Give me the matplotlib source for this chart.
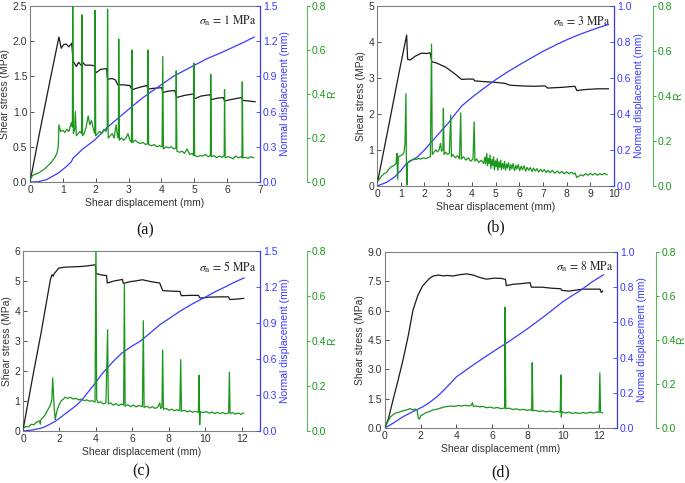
import numpy as np
import matplotlib
matplotlib.use('Agg')
import matplotlib.pyplot as plt
from matplotlib.ticker import FormatStrFormatter

plt.rcParams['font.family'] = ['Liberation Sans', 'DejaVu Sans']
plt.rcParams['mathtext.fontset'] = 'stix'

# ---- (a) sigma_n = 1 MPa : (shear displacement mm, value) ----
a_tau = [(0, 0), (0.05, 0.12), (0.3, 0.72), (0.6, 1.42), (0.88, 2.06), (0.95, 1.9), (1.02, 1.95),
         (1.1, 1.96), (1.18, 1.92), (1.27, 1.97), (1.31, 1.72), (1.41, 1.64), (1.48, 1.7), (1.55, 1.66),
         (1.6, 1.7), (1.68, 1.66), (1.85, 1.66), (1.97, 1.65), (2.0, 1.55), (2.15, 1.6), (2.33, 1.61),
         (2.36, 1.46), (2.5, 1.47), (2.6, 1.45), (2.67, 1.38), (2.85, 1.38), (3.04, 1.37), (3.1, 1.31),
         (3.3, 1.34), (3.55, 1.37), (3.6, 1.32), (3.75, 1.33), (4.01, 1.34), (4.04, 1.27), (4.2, 1.29),
         (4.41, 1.3), (4.46, 1.2), (4.7, 1.23), (4.97, 1.25), (5.0, 1.18), (5.2, 1.22), (5.48, 1.24),
         (5.51, 1.17), (5.7, 1.19), (5.88, 1.2), (5.92, 1.15), (6.1, 1.17), (6.44, 1.2), (6.47, 1.16),
         (6.65, 1.15), (6.85, 1.14)]
a_dn = [(0, 0), (0.24, 0.002), (0.5, 0.02), (0.85, 0.074), (1.1, 0.13), (1.26, 0.173), (1.3, 0.2),
        (1.36, 0.216), (1.6, 0.28), (1.97, 0.358), (2.37, 0.47), (2.98, 0.614), (3.35, 0.7), (3.59, 0.75),
        (4.0, 0.83), (4.36, 0.9), (4.9, 0.98), (5.38, 1.05), (5.8, 1.1), (6.19, 1.15), (6.5, 1.19),
        (6.82, 1.235)]
a_ratio = [(0, 0.01), (0.08, 0.03), (0.15, 0.035), (0.25, 0.04), (0.35, 0.05), (0.45, 0.06), (0.55, 0.075),
           (0.65, 0.09), (0.75, 0.11), (0.82, 0.13), (0.86, 0.16), (0.88, 0.26), (0.93, 0.23), (1.0, 0.235),
           (1.06, 0.225), (1.12, 0.24), (1.18, 0.23), (1.22, 0.25), (1.26, 0.27), (1.29, 0.25), (1.3, 0.85),
           (1.32, 0.22), (1.36, 0.24), (1.38, 0.32), (1.41, 0.21), (1.46, 0.22), (1.52, 0.23), (1.57, 0.22),
           (1.58, 0.76), (1.6, 0.21), (1.65, 0.22), (1.71, 0.25), (1.77, 0.3), (1.82, 0.26), (1.87, 0.28),
           (1.93, 0.24), (1.97, 0.22), (1.98, 0.78), (2.0, 0.21), (2.06, 0.22), (2.12, 0.23), (2.18, 0.22),
           (2.25, 0.24), (2.31, 0.23), (2.35, 0.25), (2.36, 0.785), (2.38, 0.2), (2.44, 0.21), (2.5, 0.22),
           (2.56, 0.2), (2.62, 0.26), (2.66, 0.21), (2.69, 0.2), (2.7, 0.65), (2.72, 0.19), (2.78, 0.2),
           (2.85, 0.19), (2.92, 0.2), (2.98, 0.22), (3.04, 0.19), (3.09, 0.18), (3.1, 0.6), (3.12, 0.18),
           (3.2, 0.19), (3.28, 0.18), (3.36, 0.175), (3.44, 0.18), (3.52, 0.17), (3.58, 0.175), (3.59, 0.6),
           (3.61, 0.17), (3.7, 0.165), (3.78, 0.17), (3.86, 0.16), (3.94, 0.165), (4.02, 0.16), (4.04, 0.57),
           (4.06, 0.15), (4.14, 0.16), (4.22, 0.155), (4.3, 0.16), (4.38, 0.15), (4.44, 0.155), (4.45, 0.505),
           (4.47, 0.14), (4.55, 0.135), (4.63, 0.14), (4.7, 0.13), (4.78, 0.15), (4.86, 0.125), (4.94, 0.13),
           (4.98, 0.12), (4.99, 0.54), (5.01, 0.12), (5.1, 0.115), (5.18, 0.12), (5.26, 0.118), (5.34, 0.125),
           (5.42, 0.115), (5.49, 0.12), (5.5, 0.49), (5.52, 0.115), (5.6, 0.12), (5.68, 0.11), (5.76, 0.118),
           (5.84, 0.112), (5.91, 0.12), (5.92, 0.42), (5.94, 0.11), (6.02, 0.115), (6.1, 0.112), (6.18, 0.105),
           (6.26, 0.118), (6.34, 0.11), (6.42, 0.115), (6.45, 0.11), (6.46, 0.455), (6.48, 0.11), (6.56, 0.112),
           (6.64, 0.108), (6.72, 0.115), (6.8, 0.11)]

# ---- (b) sigma_n = 3 MPa ----
b_tau = [(0, 0.1), (0.05, 0.2), (0.5, 1.7), (0.9, 3.05), (1.25, 4.19), (1.29, 3.52), (1.4, 3.5),
         (1.6, 3.6), (1.87, 3.69), (2.1, 3.68), (2.24, 3.7), (2.31, 3.45), (2.5, 3.42), (2.7, 3.36),
         (2.9, 3.3), (3.15, 3.18), (3.35, 3.08), (3.57, 2.96), (3.8, 2.97), (4.07, 2.97), (4.12, 2.92),
         (4.5, 2.9), (4.98, 2.88), (5.4, 2.85), (5.61, 2.8), (6.1, 2.78), (6.6, 2.77), (7.09, 2.78),
         (7.2, 2.72), (7.8, 2.74), (8.35, 2.77), (8.43, 2.65), (8.8, 2.68), (9.3, 2.7), (9.76, 2.7)]
b_dn = [(0, 0), (0.4, 0.02), (0.76, 0.052), (1.0, 0.085), (1.25, 0.126), (1.5, 0.145), (1.72, 0.163),
        (2.0, 0.2), (2.31, 0.246), (2.6, 0.29), (3.01, 0.35), (3.3, 0.4), (3.57, 0.444), (4.0, 0.492),
        (4.5, 0.542), (5.0, 0.59), (5.5, 0.633), (6.0, 0.673), (6.6, 0.718), (7.0, 0.748), (7.58, 0.786),
        (8.0, 0.812), (8.43, 0.836), (9.0, 0.864), (9.4, 0.882), (9.76, 0.897)]
b_ratio = [(0, 0.02), (0.1, 0.03), (0.2, 0.045), (0.3, 0.055), (0.4, 0.06), (0.5, 0.075), (0.6, 0.085),
           (0.7, 0.09), (0.8, 0.1), (0.84, 0.145), (0.86, 0.07), (0.87, 0.03), (0.9, 0.13), (1.0, 0.135),
           (1.08, 0.14), (1.14, 0.15), (1.18, 0.19), (1.22, 0.41), (1.24, 0.1), (1.26, 0.004), (1.29, 0.1),
           (1.35, 0.11), (1.45, 0.115), (1.55, 0.12), (1.65, 0.118), (1.75, 0.122), (1.85, 0.12), (1.95, 0.125),
           (2.05, 0.122), (2.15, 0.126), (2.25, 0.13), (2.3, 0.63), (2.33, 0.14), (2.4, 0.15), (2.48, 0.16),
           (2.55, 0.152), (2.62, 0.16), (2.68, 0.19), (2.72, 0.155), (2.78, 0.16), (2.8, 0.345), (2.83, 0.14),
           (2.9, 0.15), (2.98, 0.14), (3.05, 0.145), (3.11, 0.315), (3.14, 0.13), (3.2, 0.14), (3.3, 0.125),
           (3.4, 0.135), (3.48, 0.12), (3.53, 0.325), (3.56, 0.12), (3.65, 0.13), (3.75, 0.115), (3.85, 0.125),
           (3.95, 0.11), (4.05, 0.12), (4.1, 0.285), (4.13, 0.11), (4.2, 0.12), (4.3, 0.105), (4.4, 0.115),
           (4.5, 0.1), (4.55, 0.128), (4.58, 0.098), (4.63, 0.145), (4.66, 0.09), (4.7, 0.122), (4.73, 0.1),
           (4.77, 0.138), (4.8, 0.078), (4.85, 0.118), (4.88, 0.09), (4.92, 0.13), (4.95, 0.072), (5.0, 0.112),
           (5.03, 0.085), (5.07, 0.122), (5.1, 0.07), (5.14, 0.108), (5.18, 0.082), (5.22, 0.115), (5.25, 0.072),
           (5.3, 0.1), (5.34, 0.078), (5.38, 0.11), (5.42, 0.07), (5.47, 0.098), (5.5, 0.08), (5.55, 0.104),
           (5.6, 0.07), (5.65, 0.095), (5.69, 0.076), (5.74, 0.1), (5.8, 0.068), (5.86, 0.092), (5.9, 0.075),
           (5.96, 0.095), (6.02, 0.068), (6.08, 0.088), (6.14, 0.072), (6.2, 0.09), (6.27, 0.066),
           (6.33, 0.083), (6.4, 0.07), (6.47, 0.082), (6.54, 0.064), (6.6, 0.079), (6.68, 0.066),
           (6.75, 0.077), (6.82, 0.062), (6.9, 0.074), (6.98, 0.063), (7.06, 0.073), (7.14, 0.06),
           (7.22, 0.07), (7.3, 0.059), (7.4, 0.069), (7.5, 0.057), (7.6, 0.066), (7.7, 0.057), (7.8, 0.065),
           (7.9, 0.055), (8.0, 0.063), (8.1, 0.055), (8.2, 0.061), (8.3, 0.053), (8.36, 0.058), (8.42, 0.038),
           (8.5, 0.042), (8.6, 0.05), (8.7, 0.045), (8.8, 0.055), (8.9, 0.048), (9.0, 0.056), (9.1, 0.049),
           (9.2, 0.056), (9.3, 0.048), (9.4, 0.055), (9.5, 0.05), (9.6, 0.056), (9.7, 0.05)]

# ---- (c) sigma_n = 5 MPa ----
c_tau = [(0, 0.05), (0.05, 0.2), (0.5, 1.7), (1.0, 3.3), (1.5, 5.04), (1.59, 5.21), (1.66, 5.16),
         (1.72, 5.25), (1.96, 5.43), (2.3, 5.46), (2.69, 5.47), (3.1, 5.48), (3.5, 5.5), (3.97, 5.54),
         (4.0, 5.25), (4.3, 5.2), (4.58, 5.18), (4.62, 4.93), (5.0, 5.0), (5.45, 5.05), (5.5, 4.92),
         (5.9, 4.98), (6.16, 5.0), (6.55, 5.04), (7.0, 4.98), (7.5, 4.93), (7.66, 4.68), (8.2, 4.66),
         (8.61, 4.65), (8.68, 4.51), (9.2, 4.52), (9.62, 4.52), (9.71, 4.43), (10.2, 4.46), (10.8, 4.47),
         (11.26, 4.47), (11.35, 4.38), (11.8, 4.4), (12.1, 4.42)]
c_dn = [(0, 0), (0.5, 0.008), (1.04, 0.025), (1.4, 0.05), (1.77, 0.081), (2.1, 0.118), (2.5, 0.164),
        (2.9, 0.21), (3.24, 0.26), (3.6, 0.33), (3.97, 0.4), (4.3, 0.47), (4.7, 0.539), (5.05, 0.595),
        (5.43, 0.65), (6.0, 0.71), (6.42, 0.747), (7.0, 0.82), (7.51, 0.886), (8.05, 0.94), (8.61, 0.998),
        (9.3, 1.06), (10.08, 1.122), (10.6, 1.165), (11.17, 1.206), (11.6, 1.24), (12.12, 1.275)]
c_ratio = [(0, 0.01), (0.15, 0.02), (0.3, 0.018), (0.45, 0.03), (0.6, 0.028), (0.75, 0.04), (0.9, 0.045),
           (0.95, 0.03), (0.98, 0.05), (1.1, 0.06), (1.2, 0.07), (1.3, 0.085), (1.4, 0.1), (1.5, 0.115),
           (1.58, 0.14), (1.63, 0.236), (1.68, 0.15), (1.72, 0.09), (1.77, 0.05), (1.82, 0.075), (1.9, 0.1),
           (2.0, 0.12), (2.1, 0.135), (2.2, 0.14), (2.3, 0.15), (2.45, 0.145), (2.6, 0.15), (2.75, 0.142),
           (2.9, 0.145), (3.05, 0.138), (3.2, 0.142), (3.35, 0.135), (3.5, 0.138), (3.65, 0.132), (3.8, 0.135),
           (3.95, 0.128), (4.0, 0.85), (4.04, 0.14), (4.12, 0.125), (4.25, 0.13), (4.4, 0.12), (4.55, 0.125),
           (4.64, 0.45), (4.68, 0.12), (4.8, 0.125), (4.95, 0.115), (5.1, 0.122), (5.25, 0.113), (5.4, 0.12),
           (5.52, 0.115), (5.56, 0.655), (5.6, 0.11), (5.75, 0.117), (5.9, 0.108), (6.05, 0.115), (6.2, 0.107),
           (6.35, 0.113), (6.55, 0.108), (6.6, 0.49), (6.64, 0.105), (6.8, 0.11), (6.95, 0.102), (7.1, 0.108),
           (7.25, 0.1), (7.4, 0.107), (7.5, 0.125), (7.55, 0.1), (7.62, 0.105), (7.66, 0.36), (7.7, 0.097),
           (7.85, 0.1), (8.0, 0.092), (8.15, 0.097), (8.3, 0.09), (8.45, 0.095), (8.6, 0.09), (8.65, 0.317),
           (8.69, 0.088), (8.85, 0.092), (9.0, 0.085), (9.15, 0.09), (9.3, 0.083), (9.45, 0.088), (9.62, 0.083),
           (9.66, 0.248), (9.69, 0.028), (9.72, 0.085), (9.9, 0.082), (10.05, 0.086), (10.2, 0.079),
           (10.35, 0.084), (10.5, 0.078), (10.65, 0.083), (10.8, 0.077), (10.95, 0.082), (11.1, 0.076),
           (11.28, 0.081), (11.32, 0.262), (11.36, 0.078), (11.5, 0.081), (11.65, 0.075), (11.8, 0.08),
           (11.95, 0.074), (12.1, 0.08)]

# ---- (d) sigma_n = 8 MPa ----
d_tau = [(0, 0), (0.2, 0.5), (0.45, 1.43), (0.75, 2.5), (1.01, 3.48), (1.3, 4.7), (1.57, 6.03),
         (1.85, 6.8), (2.1, 7.25), (2.32, 7.48), (2.5, 7.65), (2.7, 7.77), (3.0, 7.82), (3.26, 7.78),
         (3.5, 7.8), (3.8, 7.77), (4.2, 7.84), (4.57, 7.88), (4.95, 7.82), (5.3, 7.7), (5.69, 7.61),
         (6.1, 7.66), (6.5, 7.65), (6.75, 7.6), (6.8, 7.28), (7.2, 7.35), (7.6, 7.38), (8.13, 7.43),
         (8.2, 7.2), (8.8, 7.2), (9.3, 7.15), (9.85, 7.12), (9.9, 7.04), (10.3, 7.0), (10.7, 7.05),
         (11.1, 7.1), (11.6, 7.1), (12.05, 7.1), (12.12, 6.93), (12.2, 7.0)]
d_dn = [(0, 0), (0.5, 0.03), (1.01, 0.064), (1.6, 0.095), (2.13, 0.121), (2.5, 0.145), (2.88, 0.175),
        (3.25, 0.21), (3.63, 0.25), (4.0, 0.29), (5.0, 0.362), (6.0, 0.43), (7.0, 0.495), (8.0, 0.565),
        (9.0, 0.64), (10.0, 0.72), (11.0, 0.785), (11.6, 0.83), (12.24, 0.87)]
d_ratio = [(0, 0.005), (0.1, 0.02), (0.2, 0.035), (0.3, 0.05), (0.45, 0.06), (0.6, 0.068), (0.8, 0.072),
           (1.0, 0.078), (1.2, 0.082), (1.4, 0.088), (1.55, 0.083), (1.7, 0.086), (1.8, 0.08), (1.87, 0.045),
           (1.93, 0.04), (2.0, 0.055), (2.15, 0.062), (2.3, 0.07), (2.5, 0.075), (2.7, 0.082), (2.9, 0.085),
           (3.1, 0.09), (3.3, 0.095), (3.5, 0.098), (3.7, 0.1), (3.9, 0.098), (4.1, 0.102), (4.3, 0.1),
           (4.5, 0.103), (4.7, 0.1), (4.85, 0.104), (4.9, 0.115), (4.95, 0.098), (5.1, 0.1), (5.3, 0.096),
           (5.5, 0.098), (5.7, 0.092), (5.9, 0.095), (6.1, 0.09), (6.3, 0.093), (6.5, 0.088), (6.7, 0.09),
           (6.73, 0.549), (6.77, 0.088), (6.95, 0.09), (7.15, 0.084), (7.35, 0.087), (7.55, 0.082),
           (7.75, 0.085), (7.95, 0.08), (8.15, 0.083), (8.22, 0.08), (8.25, 0.297), (8.29, 0.078), (8.45, 0.08),
           (8.65, 0.075), (8.85, 0.078), (9.05, 0.073), (9.25, 0.077), (9.45, 0.072), (9.65, 0.075),
           (9.82, 0.072), (9.86, 0.241), (9.88, 0.05), (9.92, 0.074), (10.1, 0.068), (10.3, 0.072),
           (10.5, 0.066), (10.7, 0.07), (10.9, 0.066), (11.1, 0.07), (11.3, 0.067), (11.5, 0.072),
           (11.7, 0.068), (11.9, 0.073), (12.0, 0.07), (12.04, 0.251), (12.08, 0.072), (12.2, 0.068)]

sigma_labels = ['1', '3', '5', '8']
panel_tags = ['(a)', '(b)', '(c)', '(d)']

GRAY = '#808080'
BLUE = '#3a3aff'
GREEN = '#1a961a'
GREEN_AX = '#5cb85c'
TICK_FS = 7.5


def draw_panel(fig, rect, tau, dn, ratio, xlim, xticks, tau_lim, tau_step, tau_fmt,
               dn_lim, dn_step, green_pos, sigma, tag, tag_y):
    ax = fig.add_axes(rect)
    ax_dn = ax.twinx()
    ax_r = ax.twinx()

    tx, ty = np.array(tau).T
    dx, dy = np.array(dn).T
    rx, ry = np.array(ratio).T
    ax.plot(tx, ty, color='#1a1a1a', lw=0.9, zorder=3)
    ax_dn.plot(dx, dy, color=BLUE, lw=0.9)
    ax_r.plot(rx, ry, color=GREEN, lw=0.9)

    ax.set_xlim(*xlim)
    ax.set_xticks(xticks)
    ax.set_ylim(*tau_lim)
    ax.set_yticks(np.arange(tau_lim[0], tau_lim[1] + 1e-9, tau_step))
    ax.yaxis.set_major_formatter(FormatStrFormatter(tau_fmt))
    ax.set_xlabel('Shear displacement (mm)', fontsize=TICK_FS, color='#333333', labelpad=2)
    ax.set_ylabel('Shear stress (MPa)', fontsize=TICK_FS, color='#333333', labelpad=2)
    ax.tick_params(direction='in', length=3, width=0.6, labelsize=TICK_FS, colors='#333333', pad=2)
    for s in ['left', 'top', 'bottom']:
        ax.spines[s].set_color(GRAY)
        ax.spines[s].set_linewidth(0.8)

    ax_dn.set_ylim(*dn_lim)
    ax_dn.set_yticks(np.arange(dn_lim[0], dn_lim[1] + 1e-9, dn_step))
    ax_dn.yaxis.set_major_formatter(FormatStrFormatter('%.1f'))
    ax_dn.tick_params(direction='in', length=3, width=0.6, labelsize=TICK_FS, colors=BLUE, pad=2)
    ax_dn.spines['right'].set_color(BLUE)
    ax_dn.spines['right'].set_linewidth(0.8)
    ax_dn.set_ylabel('Normal displacement (mm)', fontsize=TICK_FS, color=BLUE, labelpad=2)
    for s in ['left', 'top', 'bottom']:
        ax_dn.spines[s].set_visible(False)

    ax_r.spines['right'].set_position(('axes', green_pos))
    ax_r.set_ylim(0, 0.8)
    ax_r.set_yticks(np.arange(0, 0.81, 0.2))
    ax_r.yaxis.set_major_formatter(FormatStrFormatter('%.1f'))
    ax_r.tick_params(direction='out', length=2.5, width=0.6, labelsize=TICK_FS, colors=GREEN, pad=1)
    ax_r.spines['right'].set_color(GREEN_AX)
    ax_r.spines['right'].set_linewidth(0.8)
    ax_r.set_ylabel('R', fontsize=TICK_FS, color=GREEN, labelpad=0.5)
    for s in ['left', 'top', 'bottom']:
        ax_r.spines[s].set_visible(False)

    ax.text(0.985, 0.955, r'$\sigma_{\mathrm{n}}\,=\,%s\ \mathrm{MPa}$' % sigma, transform=ax.transAxes,
            ha='right', va='top', fontsize=8.5, color='#222222')
    fig.text(rect[0] + rect[2] * 0.5, tag_y, tag, ha='center', va='center', fontsize=11.5,
             family='Liberation Serif', color='#111111')


fig = plt.figure(figsize=(6.85, 4.83), dpi=100)

draw_panel(fig, [0.0438, 0.6232, 0.3358, 0.3644], a_tau, a_dn, a_ratio, (0, 7), range(0, 8),
           (0, 2.5), 0.5, '%.1f', (0, 1.5), 0.3, 1.204, sigma_labels[0], panel_tags[0], 0.524)
draw_panel(fig, [0.5504, 0.6149, 0.346, 0.3727], b_tau, b_dn, b_ratio, (0, 10), range(0, 11),
           (0, 5), 1, '%d', (0, 1.0), 0.2, 1.165, sigma_labels[1], panel_tags[1], 0.530)
draw_panel(fig, [0.0336, 0.1077, 0.346, 0.3727], c_tau, c_dn, c_ratio, (0, 13), range(0, 13, 2),
           (0, 6), 1, '%d', (0, 1.5), 0.3, 1.198, sigma_labels[2], panel_tags[2], 0.024)
draw_panel(fig, [0.562, 0.1139, 0.3387, 0.3644], d_tau, d_dn, d_ratio, (0, 13), range(0, 13, 2),
           (0, 9), 1.5, '%.1f', (0, 1.0), 0.2, 1.17, sigma_labels[3], panel_tags[3], 0.022)

fig.savefig('out.png', dpi=100)
